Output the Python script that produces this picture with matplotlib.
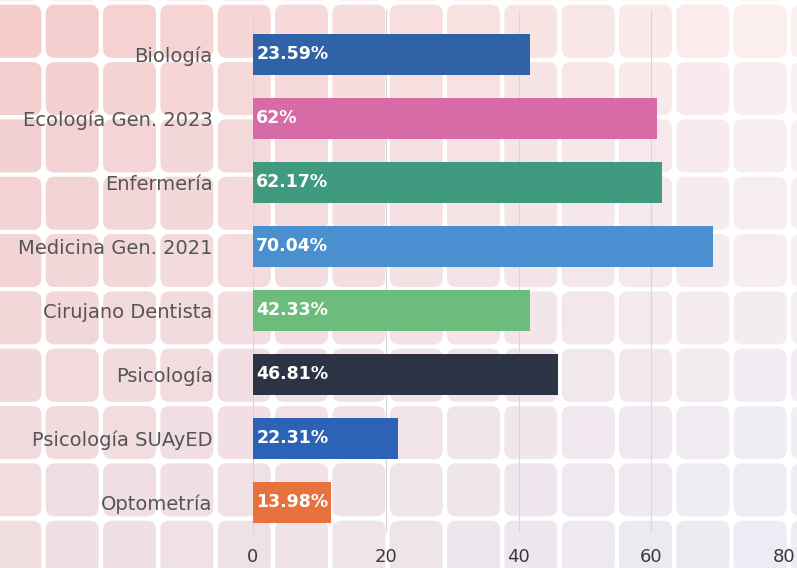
import matplotlib
matplotlib.use("Agg")
import matplotlib.pyplot as plt
from matplotlib.patches import FancyBboxPatch
import numpy as np

categories = ["Biología", "Ecología Gen. 2023", "Enfermería", "Medicina Gen. 2021",
              "Cirujano Dentista", "Psicología", "Psicología SUAyED", "Optometría"]
bar_values = [41.8, 60.9, 61.6, 69.3, 41.8, 45.9, 21.8, 11.8]
value_labels = ["23.59%", "62%", "62.17%", "70.04%", "42.33%", "46.81%", "22.31%", "13.98%"]
bar_colors = ["#3062a8", "#d86aa6", "#3f9a80", "#4a8fcf", "#6cbd7c", "#2c3345", "#2d63b6", "#e8723e"]
x_ticks = [0, 20, 40, 60, 80]

W, H = 797, 568
fig = plt.figure(figsize=(W / 100, H / 100), dpi=100)
fig.patch.set_facecolor("white")

# decorative tiled background
bg = fig.add_axes([0, 0, 1, 1])
bg.set_xlim(0, W)
bg.set_ylim(H, 0)
bg.axis("off")

TL = np.array([244, 202, 202]) / 255
TR = np.array([252, 240, 240]) / 255
BL = np.array([240, 222, 226]) / 255
BR = np.array([236, 236, 245]) / 255

pitch, size = 57.33, 53.0
x0, y0 = -11.6, -52.6
for i in range(-1, 16):
    for j in range(-1, 12):
        tx = x0 + i * pitch
        ty = y0 + j * pitch
        u = np.clip((tx + size / 2) / W, 0, 1)
        v = np.clip((ty + size / 2) / H, 0, 1)
        c = (1 - u) * (1 - v) * TL + u * (1 - v) * TR + (1 - u) * v * BL + u * v * BR
        bg.add_patch(FancyBboxPatch((tx + 9, ty + 9), size - 18, size - 18,
                                    boxstyle="round,pad=9", fc=c, ec="none"))

ax = fig.add_axes([253 / W, 35 / H, 531 / W, 523 / H])
ax.patch.set_alpha(0)
y = np.arange(len(categories))
ax.barh(y, bar_values, height=0.64, color=bar_colors, zorder=3)
ax.set_xlim(0, 80)
ax.set_ylim(7.48, -0.69)
ax.set_yticks(y, categories)
ax.set_xticks(x_ticks)
ax.tick_params(axis="y", length=0, pad=29, labelsize=14, labelcolor="#555555")
ax.tick_params(axis="x", length=0, pad=11, labelsize=13, labelcolor="#3a3a3a")
ax.grid(axis="x", color="#d6d6dc", lw=0.8, zorder=1)
ax.grid(axis="y", visible=False)
for s in ax.spines.values():
    s.set_visible(False)

for yi, lab in zip(y, value_labels):
    ax.text(0.5, yi, lab, color="white", fontweight="bold", fontsize=12.5,
            va="center", ha="left", zorder=4)

fig.savefig("out.png", dpi=100)
